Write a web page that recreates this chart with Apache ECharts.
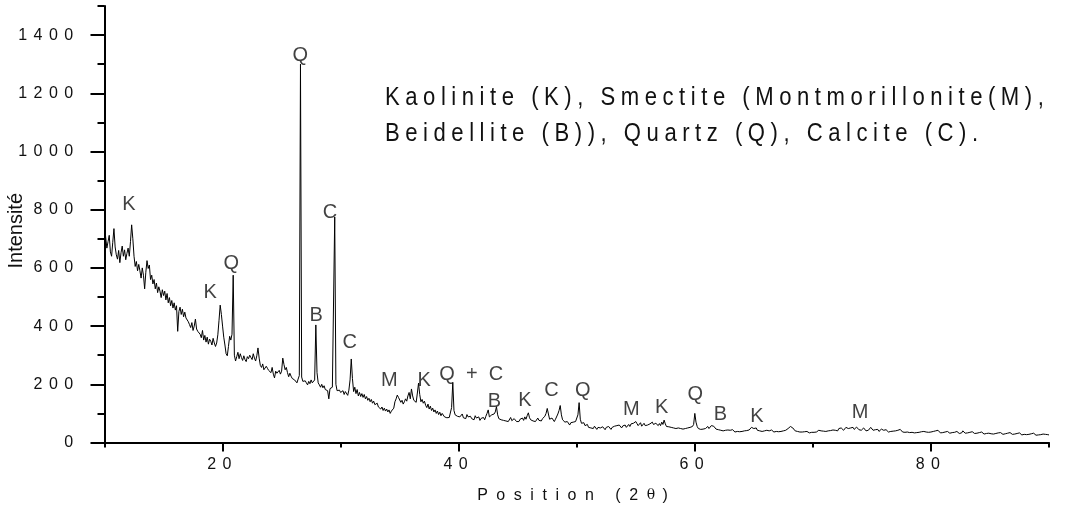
<!DOCTYPE html>
<html>
<head>
<meta charset="utf-8">
<title>XRD pattern</title>
<script src="https://cdn.jsdelivr.net/npm/echarts@6/dist/echarts.min.js"></script>
<style>
  html, body { margin: 0; padding: 0; background: #ffffff; }
  #chart { width: 1082px; height: 511px; }
</style>
</head>
<body>
<div id="chart"></div>
<script>
// Diffractogram: one intensity reading every 0.1° of 2θ, starting at 10°.
const scanStart = 10;
const scanStep = 0.1;
const intensity = [
  742, 705, 668, 690, 712, 655, 640, 688, 735, 672, // 10°
  645, 630, 660, 618, 652, 675, 640, 662, 628, 650, // 11°
  668, 640, 690, 748, 700, 640, 605, 622, 590, 612, // 12°
  590, 565, 600, 575, 528, 585, 625, 598, 610, 560, // 13°
  575, 545, 560, 528, 548, 515, 535, 520, 498, 525, // 14°
  505, 520, 490, 512, 480, 498, 470, 488, 462, 480, // 15°
  455, 470, 382, 450, 465, 440, 458, 432, 448, 428, // 16°
  428, 415, 405, 395, 412, 385, 400, 424, 390, 382, // 17°
  380, 372, 360, 385, 352, 368, 345, 362, 338, 355, // 18°
  348, 335, 358, 342, 330, 342, 370, 420, 472, 440, // 19°
  400, 362, 335, 305, 298, 330, 365, 352, 372, 575, // 20°
  300, 280, 295, 310, 288, 305, 292, 282, 298, 285, // 21°
  278, 295, 288, 300, 292, 285, 305, 290, 280, 298, // 22°
  325, 290, 265, 258, 270, 250, 245, 262, 255, 248, // 23°
  252, 240, 258, 235, 222, 245, 238, 232, 248, 235, // 24°
  245, 290, 268, 250, 258, 240, 226, 238, 228, 220, // 25°
  222, 215, 210, 205, 218, 230, 1300, 225, 210, 205, // 26°
  212, 205, 198, 210, 202, 215, 205, 210, 215, 404, // 27°
  240, 205, 198, 190, 200, 188, 195, 182, 186, 178, // 28°
  150, 185, 180, 190, 195, 775, 200, 178, 172, 180, // 29°
  172, 168, 178, 165, 175, 170, 162, 180, 215, 287, // 30°
  220, 175, 190, 168, 182, 160, 172, 158, 168, 155, // 31°
  165, 150, 158, 145, 152, 140, 148, 135, 142, 130, // 32°
  125, 135, 122, 128, 115, 122, 110, 118, 108, 115, // 33°
  105, 112, 100, 108, 102, 118, 140, 150, 163, 155, // 34°
  150, 138, 145, 132, 140, 150, 142, 160, 172, 150, // 35°
  184, 160, 145, 150, 138, 170, 204, 165, 140, 148, // 36°
  135, 142, 128, 120, 132, 115, 125, 110, 118, 105, // 37°
  112, 100, 108, 96, 104, 92, 100, 95, 88, 92,      // 38°
  85, 90, 86, 84, 120, 207, 110, 95, 100, 90,       // 39°
  95, 88, 92, 98, 85, 90, 82, 96, 88, 84,           // 40°
  90, 82, 86, 78, 92, 84, 80, 88, 76, 83,           // 41°
  80, 86, 78, 90, 100, 112, 88, 82, 95, 90,         // 42°
  98, 105, 123, 95, 82, 88, 78, 84, 76, 80,         // 43°
  74, 80, 72, 78, 86, 75, 70, 82, 76, 72,           // 44°
  78, 72, 80, 74, 84, 76, 88, 80, 92, 102,          // 45°
  85, 78, 82, 74, 80, 72, 78, 84, 76, 80,           // 46°
  74, 82, 78, 90, 100, 117, 98, 80, 76, 84,         // 47°
  78, 72, 80, 86, 98, 110, 127, 95, 78, 72,         // 48°
  70, 64, 72, 66, 60, 68, 62, 70, 64, 72,           // 49°
  75, 95, 137, 80, 66, 60, 68, 58, 55, 62,          // 50°
  52, 58, 50, 55, 48, 56, 50, 45, 52, 48,           // 51°
  50, 46, 54, 48, 44, 52, 47, 55, 49, 45,           // 52°
  52, 48, 56, 50, 58, 53, 60, 55, 50, 57,           // 53°
  54, 60, 52, 58, 62, 55, 64, 58, 66, 60,           // 54°
  72, 65, 58, 62, 68, 56, 60, 66, 58, 62,           // 55°
  60, 55, 64, 58, 70, 62, 56, 66, 60, 58,           // 56°
  65, 58, 70, 62, 77, 64, 55, 50, 54, 48,           // 57°
  52, 46, 50, 44, 48, 42, 50, 45, 48, 44,           // 58°
  46, 42, 48, 44, 50, 45, 52, 48, 55, 62,           // 59°
  100, 70, 55, 48, 52, 45, 50, 46, 52, 48,          // 60°
  50, 55, 48, 54, 58, 52, 56, 50, 46, 50,           // 61°
  44, 48, 42, 46, 40, 44, 42, 38, 43, 40,           // 62°
  42, 38, 44, 40, 36, 42, 38, 41, 37, 40,           // 63°
  38, 42, 40, 44, 41, 46, 43, 48, 52, 57,           // 64°
  48, 44, 50, 42, 46, 40, 44, 38, 42, 40,           // 65°
  38, 42, 36, 40, 37, 43, 39, 36, 41, 38,           // 66°
  40, 37, 42, 38, 35, 40, 37, 42, 45, 48,           // 67°
  52, 55, 60, 50, 44, 40, 43, 38, 41, 36,           // 68°
  39, 36, 40, 37, 34, 38, 36, 33, 37, 35,           // 69°
  38, 35, 40, 36, 39, 42, 37, 40, 44, 39,           // 70°
  42, 38, 44, 40, 46, 41, 38, 43, 47, 42,           // 71°
  45, 40, 48, 43, 50, 46, 42, 48, 52, 54,           // 72°
  48, 44, 50, 46, 52, 45, 49, 53, 47, 44,           // 73°
  48, 42, 46, 50, 44, 40, 45, 42, 47, 52,           // 74°
  46, 42, 48, 44, 40, 45, 38, 42, 46, 40,           // 75°
  42, 38, 44, 40, 36, 41, 38, 43, 39, 36,           // 76°
  40, 37, 42, 38, 45, 40, 36, 39, 35, 38,           // 77°
  36, 40, 34, 38, 35, 39, 33, 37, 34, 38,           // 78°
  35, 32, 37, 34, 38, 33, 36, 31, 35, 33,           // 79°
  36, 33, 38, 34, 40, 35, 42, 37, 33, 38,           // 80°
  34, 31, 36, 33, 38, 35, 32, 37, 34, 30,           // 81°
  35, 32, 38, 34, 31, 36, 33, 40, 35, 32,           // 82°
  36, 33, 30, 35, 32, 37, 34, 31, 35, 32,           // 83°
  30, 34, 31, 36, 33, 29, 34, 31, 35, 32,           // 84°
  34, 30, 33, 29, 35, 31, 28, 33, 30, 34,           // 85°
  31, 28, 33, 30, 27, 32, 29, 34, 30, 28,           // 86°
  32, 29, 27, 31, 28, 33, 29, 26, 30, 28,           // 87°
  30, 27, 31, 28, 26, 30, 27, 32, 28, 25,           // 88°
  29, 26, 30, 27, 25, 29, 26, 28, 24, 27,           // 89°
  26                                                // 90°
];

// Axis ticks: long ticks carry labels, short ticks sit between them.
const xMajorTicks = [20, 40, 60, 80];
const xMinorTicks = [10, 30, 50, 70, 90];
const yMajorTicks = [0, 200, 400, 600, 800, 1000, 1200, 1400];
const yMinorTicks = [100, 300, 500, 700, 900, 1100, 1300, 1500];

// Phase letters placed over their reflections: [2θ, intensity] of each letter.
const peakTags = ['K', 'K', 'Q', 'Q', 'B', 'C', 'C', 'M', 'K', 'Q  +  C', 'B', 'K', 'C', 'Q', 'M', 'K', 'Q', 'B', 'K', 'M'];
const peakTagAt = [
  [12.07, 818], [18.95, 514], [20.73, 616], [26.58, 1331], [27.93, 435],
  [29.10, 790], [30.76, 344], [34.12, 212], [37.08, 214], [41.07, 235],
  [43.03, 140], [45.62, 143], [47.85, 178], [50.52, 178], [54.63, 114],
  [57.20, 120], [60.03, 164], [62.17, 95], [65.25, 90], [74.00, 102]
];

const phaseKey = [
  'Kaolinite (K), Smectite (Montmorillonite(M),',
  'Beidellite (B)), Quartz (Q), Calcite (C).'
];

const FONT = '"Liberation Sans", Arial, Helvetica, sans-serif';
const THIN = '\u2009';
const TICK_GAP = THIN + THIN;
const TITLE_GAP = '\u2004' + THIN;
const KEY_GAP = '\u2005';

// Spread the glyphs of a string the way the plot's typesetting does.
function spaced(str, gap) {
  return Array.from(String(str)).map(function (c) { return c + gap; }).join('');
}

const scan = intensity.map(function (v, i) {
  return [(scanStart * 10 + i * scanStep * 10) / 10, v];
});

const axisLineStyle = { color: '#000', width: 2 };
const X_MIN = 10, X_MAX = 90, Y_MIN = 0, Y_MAX = 1500;

// Condensed sans look for the phase key: regular sans squeezed horizontally.
function keyLine(text, y) {
  return {
    type: 'text', x: 385, y: y, scaleX: 0.85, scaleY: 1, silent: true,
    style: {
      text: spaced(text, KEY_GAP), x: 0, y: 0,
      fontSize: 26, fontFamily: FONT, fill: '#111',
      align: 'left', verticalAlign: 'middle'
    }
  };
}

const chart = echarts.init(document.getElementById('chart'), null, { renderer: 'canvas' });

chart.setOption({
  animation: false,
  backgroundColor: '#ffffff',
  grid: {
    left: 104.5, right: 33, top: 6, bottom: 68.5,
    containLabel: false, outerBoundsMode: 'none'
  },
  xAxis: [
    {
      type: 'value', min: X_MIN, max: X_MAX, position: 'bottom', offset: 0,
      axisLine: { show: true, onZero: false, lineStyle: axisLineStyle },
      axisTick: { show: true, length: 9, lineStyle: { color: '#000', width: 2 }, customValues: xMajorTicks },
      axisLabel: {
        show: true, customValues: xMajorTicks, margin: 14,
        fontSize: 16, fontFamily: FONT, color: '#111',
        formatter: function (v) { return spaced(v, TICK_GAP); }
      },
      splitLine: { show: false },
      name: spaced('Position (2', TITLE_GAP) + '{th|\u03b8' + TITLE_GAP + '}' + spaced(')', TITLE_GAP),
      nameLocation: 'middle', nameGap: 45, nameMoveOverlap: false,
      nameTextStyle: {
        fontSize: 16, fontFamily: FONT, color: '#111',
        rich: { th: { fontSize: 14, fontFamily: '"DejaVu Serif", "Liberation Serif", serif', color: '#111' } }
      }
    },
    {
      type: 'value', min: X_MIN, max: X_MAX, position: 'bottom', offset: 0,
      axisLine: { show: false, onZero: false },
      axisTick: { show: true, length: 5, lineStyle: { color: '#000', width: 2 }, customValues: xMinorTicks },
      axisLabel: { show: false },
      splitLine: { show: false }
    }
  ],
  yAxis: [
    {
      type: 'value', min: Y_MIN, max: Y_MAX, position: 'left', offset: 0,
      axisLine: { show: true, onZero: false, lineStyle: axisLineStyle },
      axisTick: { show: true, length: 14, lineStyle: { color: '#000', width: 2 }, customValues: yMajorTicks },
      axisLabel: {
        show: true, customValues: yMajorTicks, margin: 25,
        fontSize: 16, fontFamily: FONT, color: '#111',
        formatter: function (v) { return spaced(v, TICK_GAP); }
      },
      splitLine: { show: false },
      name: 'Intensité',
      nameLocation: 'middle', nameRotate: 90, nameGap: 78, nameMoveOverlap: false,
      nameTextStyle: { fontSize: 20, fontFamily: FONT, color: '#111', padding: [0, 13, 0, 0] }
    },
    {
      type: 'value', min: Y_MIN, max: Y_MAX, position: 'left', offset: 0,
      axisLine: { show: false, onZero: false },
      axisTick: { show: true, length: 7, lineStyle: { color: '#000', width: 2 }, customValues: yMinorTicks },
      axisLabel: { show: false },
      splitLine: { show: false }
    }
  ],
  series: [
    {
      name: 'Intensité',
      type: 'line',
      xAxisIndex: 0, yAxisIndex: 0,
      data: scan,
      showSymbol: false, symbol: 'none',
      sampling: null,
      lineStyle: { color: '#000', width: 1 },
      silent: true,
      z: 3
    },
    {
      name: 'phases',
      type: 'scatter',
      xAxisIndex: 0, yAxisIndex: 0,
      symbolSize: 0,
      data: peakTagAt.map(function (p, i) { return { value: p, name: peakTags[i] }; }),
      label: {
        show: true, position: 'inside', formatter: '{b}',
        fontSize: 20, fontFamily: FONT, color: '#111'
      },
      silent: true,
      z: 4
    }
  ],
  graphic: [
    keyLine(phaseKey[0], 98),
    keyLine(phaseKey[1], 134)
  ]
});
</script>
</body>
</html>
